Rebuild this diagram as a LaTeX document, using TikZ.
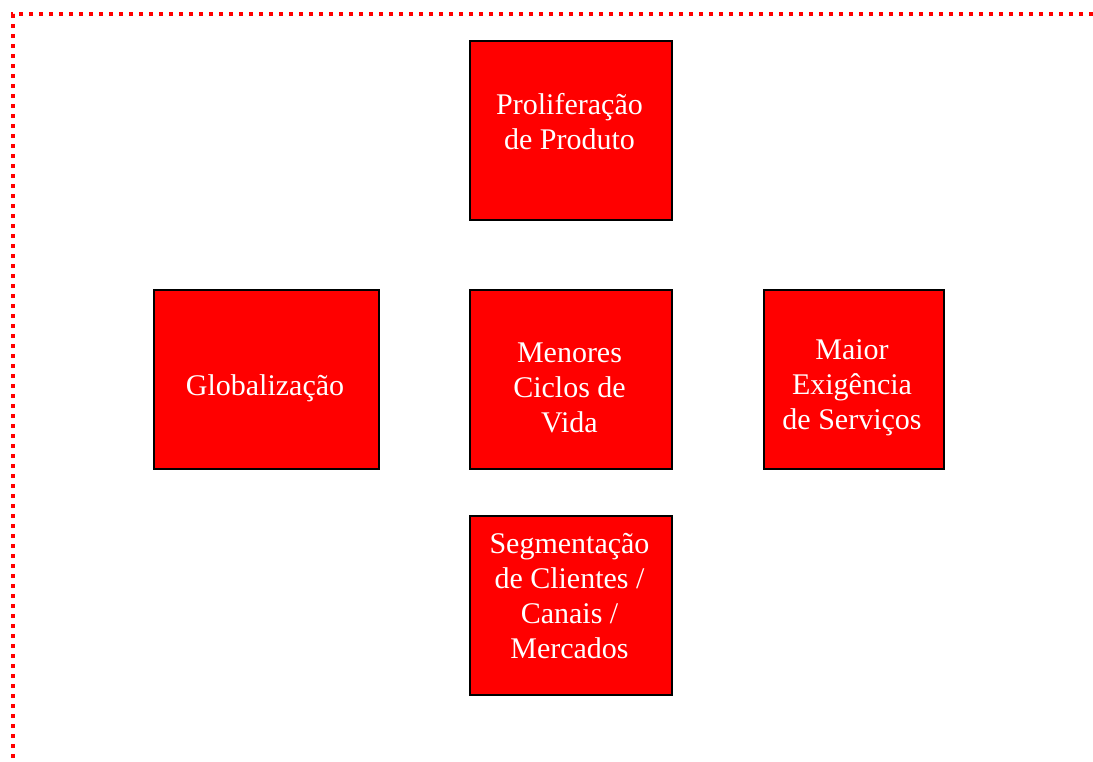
\documentclass[tikz,border=0pt]{standalone}
\usepackage{fontspec}
\setmainfont{Liberation Serif}
\begin{document}
\begin{tikzpicture}[x=1pt,y=-1pt,
  box/.style={draw=black,line width=2pt,fill={rgb,255:red,255;green,0;blue,0},
              rectangle,inner sep=0pt,anchor=north west},
  lbl/.style={text=white,align=center,inner sep=0pt,
              font=\fontsize{30pt}{35pt}\selectfont},
  frame/.style={draw={rgb,255:red,255;green,0;blue,0},line width=4pt,
                dash pattern=on 4pt off 6pt}]
\useasboundingbox (0,0) rectangle (1093,761);
% dotted frame along the top and left edges
\coordinate (fr-top) at (1093,14);
\coordinate (fr-corner) at (13,14);
\coordinate (fr-bottom) at (13,761);
\draw[frame] (fr-top) -- (fr-corner) -- (fr-bottom);
% boxes
\node[box,minimum width=202pt,minimum height=179pt] (prod) at (468.5,39.5) {};
\node[box,minimum width=225pt,minimum height=179pt] (glob) at (152.5,288.5) {};
\node[box,minimum width=202pt,minimum height=179pt] (ciclo) at (468.5,288.5) {};
\node[box,minimum width=180pt,minimum height=179pt] (serv) at (762.5,288.5) {};
\node[box,minimum width=202pt,minimum height=179pt] (seg) at (468.5,514.5) {};
% labels
\node[lbl] (prod-t) at (569.5,121.5) {Proliferação\\de Produto};
\node[lbl] (glob-t) at (265,388) {Globalização};
\node[lbl] (ciclo-t) at (569.5,388) {Menores\\Ciclos de\\Vida};
\node[lbl] (serv-t) at (852,388) {Maior\\Exigência\\de Serviços};
\node[lbl] (seg-t) at (569.5,596) {Segmentação\\de Clientes /\\Canais /\\Mercados};
\end{tikzpicture}
\end{document}
